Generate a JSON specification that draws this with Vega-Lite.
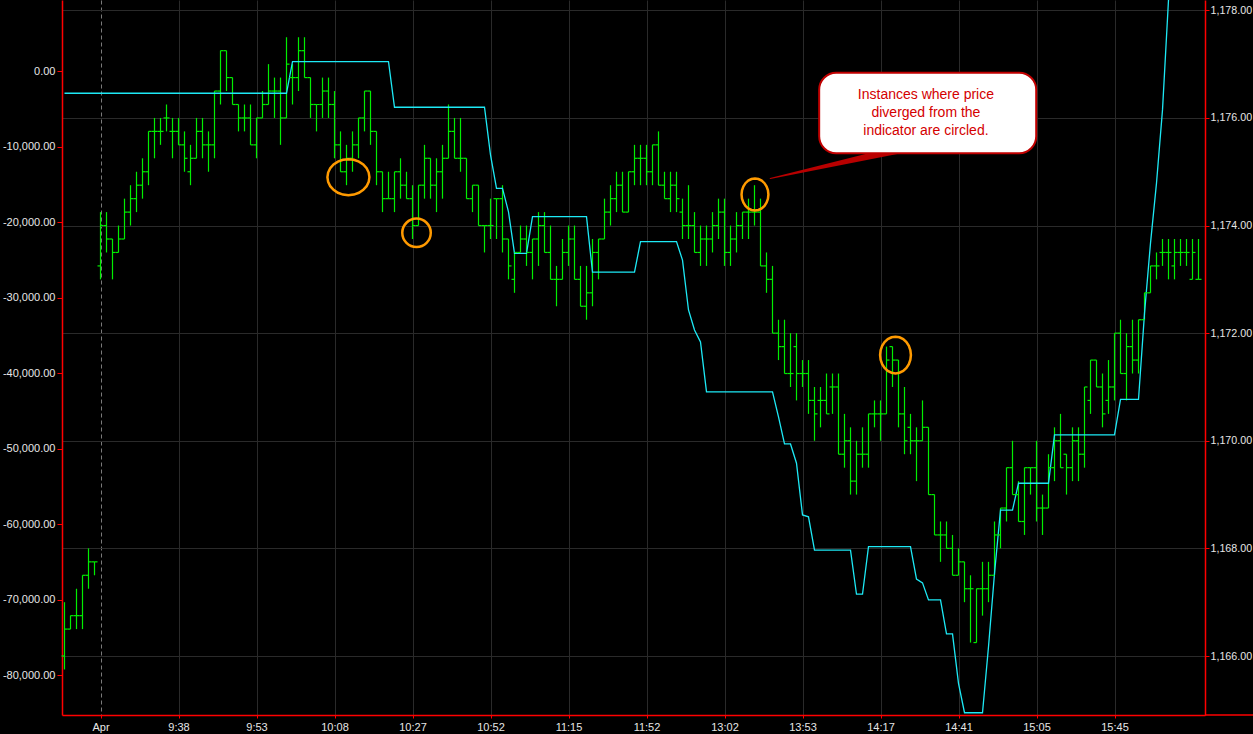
{
  "$schema": "https://vega.github.io/schema/vega-lite/v6.json",
  "description": "Price bars against a cumulative indicator, with divergences circled",
  "width": 1143,
  "height": 715,
  "autosize": "none",
  "padding": {"left": 62, "top": 0, "right": 48, "bottom": 19},
  "background": "#000000",
  "config": {
    "view": {"stroke": null},
    "axis": {
      "labelFont": "Liberation Sans",
      "labelFontSize": 11,
      "labelColor": "#e6e6e6",
      "domainColor": "#ff0000",
      "domainWidth": 1.5,
      "tickColor": "#ff0000",
      "gridColor": "#2a2a2a",
      "title": null
    }
  },
  "datasets": {
    "bars": [
      {"i":0,"o":1166.0,"h":1167.0,"l":1165.75,"c":1166.5,"v":-2950},
      {"i":1,"o":1166.5,"h":1166.75,"l":1166.5,"c":1166.75,"v":-2950},
      {"i":2,"o":1166.75,"h":1167.25,"l":1166.5,"c":1166.75,"v":-2950},
      {"i":3,"o":1166.75,"h":1167.5,"l":1166.5,"c":1167.5,"v":-2950},
      {"i":4,"o":1167.5,"h":1168.0,"l":1167.25,"c":1167.75,"v":-2950},
      {"i":5,"o":1167.75,"h":1167.75,"l":1167.5,"c":1167.75,"v":-2950},
      {"i":6,"o":1173.25,"h":1174.25,"l":1173.0,"c":1174.0,"v":-2950},
      {"i":7,"o":1174.0,"h":1174.25,"l":1173.5,"c":1173.75,"v":-2950},
      {"i":8,"o":1173.75,"h":1173.75,"l":1173.0,"c":1173.5,"v":-2950},
      {"i":9,"o":1173.5,"h":1174.0,"l":1173.5,"c":1173.75,"v":-2950},
      {"i":10,"o":1173.75,"h":1174.5,"l":1173.75,"c":1174.25,"v":-2950},
      {"i":11,"o":1174.25,"h":1174.75,"l":1174.0,"c":1174.5,"v":-2950},
      {"i":12,"o":1174.5,"h":1175.0,"l":1174.25,"c":1174.75,"v":-2950},
      {"i":13,"o":1174.75,"h":1175.25,"l":1174.5,"c":1175.0,"v":-2950},
      {"i":14,"o":1175.0,"h":1175.75,"l":1174.75,"c":1175.75,"v":-2950},
      {"i":15,"o":1175.75,"h":1176.0,"l":1175.25,"c":1175.75,"v":-2950},
      {"i":16,"o":1175.75,"h":1176.0,"l":1175.5,"c":1175.75,"v":-2950},
      {"i":17,"o":1176.0,"h":1176.25,"l":1175.75,"c":1176.0,"v":-2950},
      {"i":18,"o":1175.75,"h":1176.0,"l":1175.25,"c":1175.75,"v":-2950},
      {"i":19,"o":1175.75,"h":1176.0,"l":1175.5,"c":1175.5,"v":-2950},
      {"i":20,"o":1175.5,"h":1175.75,"l":1175.0,"c":1175.25,"v":-2950},
      {"i":21,"o":1175.0,"h":1175.5,"l":1174.75,"c":1175.25,"v":-2950},
      {"i":22,"o":1175.25,"h":1176.0,"l":1175.25,"c":1175.75,"v":-2950},
      {"i":23,"o":1175.75,"h":1176.0,"l":1175.25,"c":1175.5,"v":-2950},
      {"i":24,"o":1175.5,"h":1175.75,"l":1175.0,"c":1175.5,"v":-2950},
      {"i":25,"o":1175.5,"h":1176.5,"l":1175.25,"c":1176.5,"v":-2950},
      {"i":26,"o":1176.5,"h":1177.25,"l":1176.25,"c":1177.25,"v":-2950},
      {"i":27,"o":1177.25,"h":1177.25,"l":1176.5,"c":1176.75,"v":-2950},
      {"i":28,"o":1176.75,"h":1176.75,"l":1176.25,"c":1176.25,"v":-2950},
      {"i":29,"o":1176.25,"h":1176.25,"l":1175.75,"c":1176.0,"v":-2950},
      {"i":30,"o":1176.0,"h":1176.25,"l":1175.75,"c":1176.0,"v":-2950},
      {"i":31,"o":1176.0,"h":1176.25,"l":1175.5,"c":1175.5,"v":-2950},
      {"i":32,"o":1175.5,"h":1176.0,"l":1175.25,"c":1176.0,"v":-2950},
      {"i":33,"o":1176.0,"h":1176.5,"l":1176.0,"c":1176.25,"v":-2950},
      {"i":34,"o":1176.25,"h":1177.0,"l":1176.25,"c":1176.5,"v":-2950},
      {"i":35,"o":1176.5,"h":1176.75,"l":1176.0,"c":1176.5,"v":-2950},
      {"i":36,"o":1176.5,"h":1176.75,"l":1175.5,"c":1176.0,"v":-2950},
      {"i":37,"o":1176.0,"h":1177.5,"l":1176.0,"c":1177.0,"v":-2950},
      {"i":38,"o":1176.75,"h":1177.0,"l":1176.25,"c":1176.75,"v":1250},
      {"i":39,"o":1176.75,"h":1177.5,"l":1176.5,"c":1177.25,"v":1250},
      {"i":40,"o":1177.25,"h":1177.5,"l":1176.75,"c":1176.75,"v":1250},
      {"i":41,"o":1176.75,"h":1176.75,"l":1176.0,"c":1176.25,"v":1250},
      {"i":42,"o":1176.25,"h":1176.25,"l":1175.75,"c":1176.25,"v":1250},
      {"i":43,"o":1176.25,"h":1176.75,"l":1176.0,"c":1176.5,"v":1250},
      {"i":44,"o":1176.5,"h":1176.75,"l":1176.0,"c":1176.25,"v":1250},
      {"i":45,"o":1176.25,"h":1176.5,"l":1175.25,"c":1175.5,"v":1250},
      {"i":46,"o":1175.5,"h":1175.75,"l":1175.0,"c":1175.0,"v":1250},
      {"i":47,"o":1175.0,"h":1175.5,"l":1174.75,"c":1175.25,"v":1250},
      {"i":48,"o":1175.25,"h":1175.75,"l":1175.0,"c":1175.5,"v":1250},
      {"i":49,"o":1175.5,"h":1176.0,"l":1175.25,"c":1176.0,"v":1250},
      {"i":50,"o":1176.0,"h":1176.5,"l":1175.75,"c":1176.5,"v":1250},
      {"i":51,"o":1176.5,"h":1176.5,"l":1175.5,"c":1175.75,"v":1250},
      {"i":52,"o":1175.75,"h":1175.75,"l":1174.75,"c":1175.0,"v":1250},
      {"i":53,"o":1175.0,"h":1175.0,"l":1174.25,"c":1174.5,"v":1250},
      {"i":54,"o":1174.5,"h":1175.0,"l":1174.5,"c":1174.5,"v":1250},
      {"i":55,"o":1174.5,"h":1175.0,"l":1174.25,"c":1175.0,"v":-4800},
      {"i":56,"o":1175.0,"h":1175.25,"l":1174.5,"c":1174.75,"v":-4800},
      {"i":57,"o":1174.75,"h":1175.0,"l":1174.5,"c":1174.5,"v":-4800},
      {"i":58,"o":1174.5,"h":1174.75,"l":1173.75,"c":1174.0,"v":-4800},
      {"i":59,"o":1174.0,"h":1174.75,"l":1174.0,"c":1174.75,"v":-4800},
      {"i":60,"o":1174.75,"h":1175.5,"l":1174.5,"c":1175.25,"v":-4800},
      {"i":61,"o":1175.25,"h":1175.25,"l":1174.5,"c":1174.75,"v":-4800},
      {"i":62,"o":1174.75,"h":1175.25,"l":1174.25,"c":1175.0,"v":-4800},
      {"i":63,"o":1175.0,"h":1175.5,"l":1174.5,"c":1175.25,"v":-4800},
      {"i":64,"o":1175.25,"h":1176.25,"l":1175.25,"c":1175.75,"v":-4800},
      {"i":65,"o":1175.75,"h":1176.0,"l":1175.25,"c":1175.25,"v":-4800},
      {"i":66,"o":1175.25,"h":1176.0,"l":1175.0,"c":1175.25,"v":-4800},
      {"i":67,"o":1175.25,"h":1175.25,"l":1174.5,"c":1174.5,"v":-4800},
      {"i":68,"o":1174.5,"h":1174.75,"l":1174.25,"c":1174.75,"v":-4800},
      {"i":69,"o":1174.75,"h":1174.75,"l":1174.0,"c":1174.0,"v":-4800},
      {"i":70,"o":1174.0,"h":1174.0,"l":1173.5,"c":1174.0,"v":-4800},
      {"i":71,"o":1174.0,"h":1174.5,"l":1173.75,"c":1174.0,"v":-11100},
      {"i":72,"o":1174.5,"h":1174.5,"l":1173.75,"c":1174.5,"v":-15550},
      {"i":73,"o":1174.5,"h":1174.75,"l":1173.5,"c":1173.75,"v":-15550},
      {"i":74,"o":1173.75,"h":1173.75,"l":1173.0,"c":1173.25,"v":-18650},
      {"i":75,"o":1173.0,"h":1173.5,"l":1172.75,"c":1173.5,"v":-24150},
      {"i":76,"o":1173.5,"h":1174.0,"l":1173.5,"c":1173.75,"v":-24150},
      {"i":77,"o":1173.75,"h":1174.0,"l":1173.25,"c":1173.5,"v":-24150},
      {"i":78,"o":1173.5,"h":1173.75,"l":1173.0,"c":1173.75,"v":-19300},
      {"i":79,"o":1173.75,"h":1174.25,"l":1173.25,"c":1174.0,"v":-19300},
      {"i":80,"o":1174.0,"h":1174.25,"l":1173.5,"c":1173.5,"v":-19300},
      {"i":81,"o":1173.5,"h":1174.0,"l":1173.0,"c":1173.0,"v":-19300},
      {"i":82,"o":1173.0,"h":1173.25,"l":1172.5,"c":1173.0,"v":-19300},
      {"i":83,"o":1173.0,"h":1173.75,"l":1173.0,"c":1173.5,"v":-19300},
      {"i":84,"o":1173.5,"h":1174.0,"l":1173.25,"c":1173.75,"v":-19300},
      {"i":85,"o":1173.75,"h":1174.0,"l":1173.0,"c":1173.0,"v":-19300},
      {"i":86,"o":1173.0,"h":1173.25,"l":1172.5,"c":1172.5,"v":-19300},
      {"i":87,"o":1172.5,"h":1173.25,"l":1172.25,"c":1172.75,"v":-19300},
      {"i":88,"o":1172.75,"h":1173.75,"l":1172.5,"c":1173.5,"v":-26650},
      {"i":89,"o":1173.5,"h":1173.75,"l":1173.0,"c":1173.75,"v":-26650},
      {"i":90,"o":1173.75,"h":1174.5,"l":1173.75,"c":1174.25,"v":-26650},
      {"i":91,"o":1174.25,"h":1174.75,"l":1174.0,"c":1174.5,"v":-26650},
      {"i":92,"o":1174.5,"h":1175.0,"l":1174.25,"c":1174.75,"v":-26650},
      {"i":93,"o":1174.75,"h":1175.0,"l":1174.25,"c":1174.25,"v":-26650},
      {"i":94,"o":1174.25,"h":1175.0,"l":1174.25,"c":1175.0,"v":-26650},
      {"i":95,"o":1175.0,"h":1175.5,"l":1174.75,"c":1175.25,"v":-26650},
      {"i":96,"o":1175.25,"h":1175.5,"l":1174.75,"c":1175.25,"v":-22600},
      {"i":97,"o":1175.25,"h":1175.5,"l":1174.75,"c":1175.0,"v":-22600},
      {"i":98,"o":1175.0,"h":1175.5,"l":1174.75,"c":1175.5,"v":-22600},
      {"i":99,"o":1175.5,"h":1175.75,"l":1174.75,"c":1174.75,"v":-22600},
      {"i":100,"o":1174.75,"h":1175.0,"l":1174.5,"c":1174.5,"v":-22600},
      {"i":101,"o":1174.5,"h":1175.0,"l":1174.25,"c":1174.75,"v":-22600},
      {"i":102,"o":1174.75,"h":1175.0,"l":1174.25,"c":1174.5,"v":-22600},
      {"i":103,"o":1174.25,"h":1174.5,"l":1173.75,"c":1174.0,"v":-25050},
      {"i":104,"o":1174.0,"h":1174.75,"l":1173.75,"c":1174.0,"v":-31650},
      {"i":105,"o":1174.0,"h":1174.25,"l":1173.5,"c":1173.5,"v":-34300},
      {"i":106,"o":1173.5,"h":1174.0,"l":1173.25,"c":1173.75,"v":-35900},
      {"i":107,"o":1173.75,"h":1174.0,"l":1173.25,"c":1173.75,"v":-42500},
      {"i":108,"o":1173.75,"h":1174.25,"l":1173.5,"c":1174.0,"v":-42500},
      {"i":109,"o":1174.0,"h":1174.5,"l":1173.75,"c":1174.25,"v":-42500},
      {"i":110,"o":1174.25,"h":1174.5,"l":1173.25,"c":1173.5,"v":-42500},
      {"i":111,"o":1173.5,"h":1174.0,"l":1173.25,"c":1173.75,"v":-42500},
      {"i":112,"o":1173.75,"h":1174.25,"l":1173.5,"c":1174.0,"v":-42500},
      {"i":113,"o":1174.0,"h":1174.25,"l":1173.75,"c":1174.25,"v":-42500},
      {"i":114,"o":1174.25,"h":1174.5,"l":1173.75,"c":1174.25,"v":-42500},
      {"i":115,"o":1174.25,"h":1174.75,"l":1174.0,"c":1174.25,"v":-42500},
      {"i":116,"o":1174.25,"h":1174.5,"l":1173.25,"c":1173.25,"v":-42500},
      {"i":117,"o":1173.25,"h":1173.5,"l":1172.75,"c":1173.0,"v":-42500},
      {"i":118,"o":1173.0,"h":1173.25,"l":1172.0,"c":1172.0,"v":-42500},
      {"i":119,"o":1172.0,"h":1172.25,"l":1171.5,"c":1171.75,"v":-45800},
      {"i":120,"o":1171.75,"h":1172.25,"l":1171.25,"c":1171.25,"v":-49400},
      {"i":121,"o":1171.25,"h":1172.0,"l":1171.0,"c":1171.25,"v":-49400},
      {"i":122,"o":1171.75,"h":1172.0,"l":1170.75,"c":1171.25,"v":-51950},
      {"i":123,"o":1171.25,"h":1171.5,"l":1171.0,"c":1171.25,"v":-58800},
      {"i":124,"o":1171.25,"h":1171.5,"l":1170.5,"c":1170.75,"v":-59050},
      {"i":125,"o":1170.75,"h":1171.0,"l":1170.0,"c":1170.5,"v":-63450},
      {"i":126,"o":1170.75,"h":1171.0,"l":1170.25,"c":1170.75,"v":-63450},
      {"i":127,"o":1170.75,"h":1171.25,"l":1170.5,"c":1170.5,"v":-63450},
      {"i":128,"o":1171.0,"h":1171.25,"l":1170.5,"c":1171.0,"v":-63450},
      {"i":129,"o":1171.0,"h":1171.25,"l":1169.75,"c":1169.75,"v":-63450},
      {"i":130,"o":1169.75,"h":1170.5,"l":1169.5,"c":1170.0,"v":-63450},
      {"i":131,"o":1170.0,"h":1170.25,"l":1169.0,"c":1169.25,"v":-63450},
      {"i":132,"o":1169.25,"h":1170.0,"l":1169.0,"c":1169.75,"v":-69300},
      {"i":133,"o":1169.75,"h":1170.25,"l":1169.5,"c":1169.75,"v":-69300},
      {"i":134,"o":1169.75,"h":1170.5,"l":1169.5,"c":1170.5,"v":-63000},
      {"i":135,"o":1170.5,"h":1170.75,"l":1170.25,"c":1170.5,"v":-63000},
      {"i":136,"o":1170.5,"h":1170.75,"l":1170.0,"c":1170.5,"v":-63000},
      {"i":137,"o":1170.5,"h":1171.75,"l":1170.5,"c":1171.5,"v":-63000},
      {"i":138,"o":1171.75,"h":1171.75,"l":1171.0,"c":1171.5,"v":-63000},
      {"i":139,"o":1171.5,"h":1171.5,"l":1170.25,"c":1170.5,"v":-63000},
      {"i":140,"o":1170.5,"h":1171.0,"l":1169.75,"c":1170.0,"v":-63000},
      {"i":141,"o":1170.25,"h":1170.5,"l":1169.75,"c":1170.0,"v":-63000},
      {"i":142,"o":1170.0,"h":1170.25,"l":1169.25,"c":1170.0,"v":-67300},
      {"i":143,"o":1170.0,"h":1170.75,"l":1170.0,"c":1170.25,"v":-67800},
      {"i":144,"o":1170.25,"h":1170.25,"l":1169.0,"c":1169.0,"v":-70050},
      {"i":145,"o":1169.0,"h":1169.0,"l":1168.25,"c":1168.25,"v":-70050},
      {"i":146,"o":1168.25,"h":1168.5,"l":1167.75,"c":1168.25,"v":-70050},
      {"i":147,"o":1168.25,"h":1168.5,"l":1168.0,"c":1168.0,"v":-74550},
      {"i":148,"o":1168.0,"h":1168.25,"l":1167.5,"c":1167.5,"v":-74550},
      {"i":149,"o":1167.5,"h":1168.0,"l":1167.5,"c":1167.75,"v":-81100},
      {"i":150,"o":1167.75,"h":1167.75,"l":1167.0,"c":1167.25,"v":-85000},
      {"i":151,"o":1167.25,"h":1167.5,"l":1166.25,"c":1167.25,"v":-85000},
      {"i":152,"o":1166.25,"h":1167.25,"l":1166.25,"c":1167.25,"v":-85000},
      {"i":153,"o":1167.25,"h":1167.75,"l":1166.75,"c":1167.25,"v":-85000},
      {"i":154,"o":1167.25,"h":1167.75,"l":1167.0,"c":1167.5,"v":-76250},
      {"i":155,"o":1167.5,"h":1168.5,"l":1167.5,"c":1168.25,"v":-66550},
      {"i":156,"o":1168.25,"h":1168.75,"l":1168.0,"c":1168.75,"v":-58150},
      {"i":157,"o":1168.75,"h":1169.5,"l":1168.5,"c":1169.5,"v":-58150},
      {"i":158,"o":1169.5,"h":1170.0,"l":1169.0,"c":1169.0,"v":-58150},
      {"i":159,"o":1169.0,"h":1169.25,"l":1168.5,"c":1168.5,"v":-54600},
      {"i":160,"o":1168.5,"h":1169.5,"l":1168.25,"c":1169.5,"v":-54600},
      {"i":161,"o":1169.5,"h":1169.5,"l":1169.0,"c":1169.5,"v":-54600},
      {"i":162,"o":1169.5,"h":1170.0,"l":1168.5,"c":1168.75,"v":-54600},
      {"i":163,"o":1168.75,"h":1169.0,"l":1168.25,"c":1168.75,"v":-54600},
      {"i":164,"o":1168.75,"h":1169.75,"l":1168.75,"c":1169.5,"v":-54600},
      {"i":165,"o":1169.5,"h":1170.25,"l":1169.25,"c":1170.0,"v":-48200},
      {"i":166,"o":1170.0,"h":1170.5,"l":1169.5,"c":1169.5,"v":-48200},
      {"i":167,"o":1169.75,"h":1169.75,"l":1169.0,"c":1169.5,"v":-48200},
      {"i":168,"o":1169.5,"h":1170.25,"l":1169.25,"c":1170.0,"v":-48200},
      {"i":169,"o":1170.0,"h":1170.25,"l":1169.25,"c":1169.75,"v":-48200},
      {"i":170,"o":1169.75,"h":1171.0,"l":1169.5,"c":1171.0,"v":-48200},
      {"i":171,"o":1170.75,"h":1171.5,"l":1170.5,"c":1171.5,"v":-48200},
      {"i":172,"o":1171.5,"h":1171.5,"l":1171.0,"c":1171.0,"v":-48200},
      {"i":173,"o":1171.0,"h":1171.25,"l":1170.25,"c":1170.5,"v":-48200},
      {"i":174,"o":1170.75,"h":1171.5,"l":1170.5,"c":1171.0,"v":-48200},
      {"i":175,"o":1171.0,"h":1172.0,"l":1170.75,"c":1172.0,"v":-48200},
      {"i":176,"o":1172.0,"h":1172.25,"l":1171.25,"c":1171.25,"v":-43500},
      {"i":177,"o":1171.25,"h":1172.0,"l":1170.75,"c":1171.75,"v":-43500},
      {"i":178,"o":1171.75,"h":1172.25,"l":1171.25,"c":1171.5,"v":-43500},
      {"i":179,"o":1171.5,"h":1172.25,"l":1171.25,"c":1172.25,"v":-43500},
      {"i":180,"o":1172.25,"h":1172.75,"l":1172.25,"c":1172.75,"v":-32100},
      {"i":181,"o":1172.75,"h":1173.25,"l":1172.75,"c":1173.25,"v":-22800},
      {"i":182,"o":1173.25,"h":1173.5,"l":1173.0,"c":1173.25,"v":-14850},
      {"i":183,"o":1173.5,"h":1173.75,"l":1173.25,"c":1173.5,"v":-5150},
      {"i":184,"o":1173.5,"h":1173.75,"l":1173.0,"c":1173.5,"v":9400},
      {"i":185,"o":1173.25,"h":1173.75,"l":1173.0,"c":1173.5,"v":18000},
      {"i":186,"o":1173.5,"h":1173.75,"l":1173.25,"c":1173.5},
      {"i":187,"o":1173.5,"h":1173.75,"l":1173.25,"c":1173.5},
      {"i":188,"o":1173.0,"h":1173.75,"l":1173.0,"c":1173.5},
      {"i":189,"o":1173.0,"h":1173.75,"l":1173.0,"c":1173.0}
    ],
    "notes": [
      {"k":"c1","i":47.32,"p":1174.899},
      {"k":"c2","i":58.67,"p":1173.865},
      {"k":"c3","i":115.08,"p":1174.577},
      {"k":"c4","i":138.5,"p":1171.594},
      {"k":"ptr","i":117.62,"p":1174.874},
      {"k":"ptr","i":139.28,"p":1175.415},
      {"k":"box","i":125.78,"i2":161.95,"p":1176.841,"p2":1175.343},
      {"k":"txt","i":143.57,"p":1176.426,"t":"Instances where price"},
      {"k":"txt","i":143.57,"p":1176.086,"t":"diverged from the"},
      {"k":"txt","i":143.57,"p":1175.757,"t":"indicator are circled."},
      {"k":"base","i":190.08,"i2":198.5,"p":1164.9035}
    ]
  },
  "encoding": {
    "x": {
      "field": "i",
      "type": "quantitative",
      "scale": {"domain": [-0.41667, 190.08333], "nice": false, "zero": false},
      "axis": {
        "values": [6, 19, 32, 45, 58, 71, 84, 97, 110, 123, 136, 149, 162, 175],
        "labelExpr": "['Apr','9:38','9:53','10:08','10:27','10:52','11:15','11:52','13:02','13:53','14:17','14:41','15:05','15:45'][(datum.value - 6) / 13]",
        "grid": true,
        "gridColor": {"condition": {"test": "datum.value == 6", "value": "#7a7a7a"}, "value": "#2a2a2a"},
        "gridDash": {"condition": {"test": "datum.value == 6", "value": [4, 3]}, "value": []},
        "tickSize": 3,
        "labelPadding": 3,
        "labelAngle": 0,
        "labelFlush": false,
        "labelOverlap": false
      }
    }
  },
  "layer": [
    {
      "data": {"name": "bars"},
      "mark": {"type": "rule", "color": "#00ee00", "strokeWidth": 1.2},
      "encoding": {
        "y": {
          "field": "l",
          "type": "quantitative",
          "scale": {"domain": [1164.9035, 1178.192], "nice": false, "zero": false},
          "axis": {
            "orient": "right",
            "values": [1166, 1168, 1170, 1172, 1174, 1176, 1178],
            "format": ",.2f",
            "grid": true,
            "tickSize": 4,
            "labelPadding": 1,
            "labelFontSize": 10.7
          }
        },
        "y2": {"field": "h"}
      }
    },
    {
      "data": {"name": "bars"},
      "mark": {"type": "line", "color": "#1de9f5", "strokeWidth": 1.3, "clip": true},
      "encoding": {
        "y": {
          "field": "v",
          "type": "quantitative",
          "scale": {"domain": [-85298, 9404], "nice": false, "zero": false},
          "axis": {
            "orient": "left",
            "values": [-80000, -70000, -60000, -50000, -40000, -30000, -20000, -10000, 0],
            "labelExpr": "replace(format(datum.value, ',.2f'), '\u2212', '-')",
            "grid": false,
            "tickSize": 5,
            "labelPadding": 2
          }
        }
      }
    },
    {
      "data": {"name": "bars"},
      "mark": {"type": "tick", "orient": "horizontal", "size": 3, "thickness": 1.2, "xOffset": -1.5, "color": "#00ee00", "opacity": 1},
      "encoding": {"y": {"field": "o", "type": "quantitative", "scale": {"domain": [1164.9035, 1178.192], "nice": false, "zero": false}, "axis": null}}
    },
    {
      "data": {"name": "bars"},
      "mark": {"type": "tick", "orient": "horizontal", "size": 3, "thickness": 1.2, "xOffset": 1.5, "color": "#00ee00", "opacity": 1},
      "encoding": {"y": {"field": "c", "type": "quantitative", "scale": {"domain": [1164.9035, 1178.192], "nice": false, "zero": false}, "axis": null}}
    },
    {
      "data": {"name": "notes"},
      "transform": [{"filter": "datum.k == 'base'"}],
      "mark": {"type": "rule", "color": "#ff0000", "strokeWidth": 1.5},
      "encoding": {
        "x2": {"field": "i2"},
        "y": {"field": "p", "type": "quantitative", "scale": {"domain": [1164.9035, 1178.192], "nice": false, "zero": false}, "axis": null}
      }
    },
    {
      "data": {"name": "notes"},
      "transform": [{"filter": "datum.k == 'c1'"}],
      "mark": {"type": "point", "shape": "M1,0L0.966,0.222L0.866,0.429L0.707,0.606L0.5,0.742L0.259,0.828L0,0.857L-0.259,0.828L-0.5,0.742L-0.707,0.606L-0.866,0.429L-0.966,0.222L-1,0L-0.966,-0.222L-0.866,-0.429L-0.707,-0.606L-0.5,-0.742L-0.259,-0.828L0,-0.857L0.259,-0.828L0.5,-0.742L0.707,-0.606L0.866,-0.429L0.966,-0.222Z", "size": 1764, "filled": false, "stroke": "#ff9a00", "strokeWidth": 2.5, "opacity": 1},
      "encoding": {"y": {"field": "p", "type": "quantitative", "scale": {"domain": [1164.9035, 1178.192], "nice": false, "zero": false}, "axis": null}}
    },
    {
      "data": {"name": "notes"},
      "transform": [{"filter": "datum.k == 'c2'"}],
      "mark": {"type": "point", "shape": "circle", "size": 812, "filled": false, "stroke": "#ff9a00", "strokeWidth": 2.5, "opacity": 1},
      "encoding": {"y": {"field": "p", "type": "quantitative", "scale": {"domain": [1164.9035, 1178.192], "nice": false, "zero": false}, "axis": null}}
    },
    {
      "data": {"name": "notes"},
      "transform": [{"filter": "datum.k == 'c3'"}],
      "mark": {"type": "point", "shape": "M0.84,0L0.811,0.259L0.727,0.5L0.594,0.707L0.42,0.866L0.217,0.966L0,1L-0.217,0.966L-0.42,0.866L-0.594,0.707L-0.727,0.5L-0.811,0.259L-0.84,0L-0.811,-0.259L-0.727,-0.5L-0.594,-0.707L-0.42,-0.866L-0.217,-0.966L0,-1L0.217,-0.966L0.42,-0.866L0.594,-0.707L0.727,-0.5L0.811,-0.259Z", "size": 1024, "filled": false, "stroke": "#ff9a00", "strokeWidth": 2.5, "opacity": 1},
      "encoding": {"y": {"field": "p", "type": "quantitative", "scale": {"domain": [1164.9035, 1178.192], "nice": false, "zero": false}, "axis": null}}
    },
    {
      "data": {"name": "notes"},
      "transform": [{"filter": "datum.k == 'c4'"}],
      "mark": {"type": "point", "shape": "M0.84,0L0.811,0.259L0.727,0.5L0.594,0.707L0.42,0.866L0.217,0.966L0,1L-0.217,0.966L-0.42,0.866L-0.594,0.707L-0.727,0.5L-0.811,0.259L-0.84,0L-0.811,-0.259L-0.727,-0.5L-0.594,-0.707L-0.42,-0.866L-0.217,-0.966L0,-1L0.217,-0.966L0.42,-0.866L0.594,-0.707L0.727,-0.5L0.811,-0.259Z", "size": 1347, "filled": false, "stroke": "#ff9a00", "strokeWidth": 2.5, "opacity": 1},
      "encoding": {"y": {"field": "p", "type": "quantitative", "scale": {"domain": [1164.9035, 1178.192], "nice": false, "zero": false}, "axis": null}}
    },
    {
      "data": {"name": "notes"},
      "transform": [{"filter": "datum.k == 'ptr'"}],
      "mark": {"type": "trail", "color": "#b80000"},
      "encoding": {
        "y": {"field": "p", "type": "quantitative", "scale": {"domain": [1164.9035, 1178.192], "nice": false, "zero": false}, "axis": null},
        "size": {"field": "i", "type": "quantitative", "scale": {"domain": [117.62, 139.28], "range": [1, 8]}, "legend": null}
      }
    },
    {
      "data": {"name": "notes"},
      "transform": [{"filter": "datum.k == 'box'"}],
      "mark": {"type": "rect", "fill": "#ffffff", "stroke": "#c00000", "strokeWidth": 2, "cornerRadius": 17},
      "encoding": {
        "x2": {"field": "i2"},
        "y": {"field": "p", "type": "quantitative", "scale": {"domain": [1164.9035, 1178.192], "nice": false, "zero": false}, "axis": null},
        "y2": {"field": "p2"}
      }
    },
    {
      "data": {"name": "notes"},
      "transform": [{"filter": "datum.k == 'txt'"}],
      "mark": {"type": "text", "font": "Liberation Sans", "fontSize": 14, "color": "#d40000", "align": "center", "baseline": "middle"},
      "encoding": {
        "y": {"field": "p", "type": "quantitative", "scale": {"domain": [1164.9035, 1178.192], "nice": false, "zero": false}, "axis": null},
        "text": {"field": "t"}
      }
    }
  ],
  "resolve": {"scale": {"y": "independent"}, "axis": {"y": "independent"}}
}
